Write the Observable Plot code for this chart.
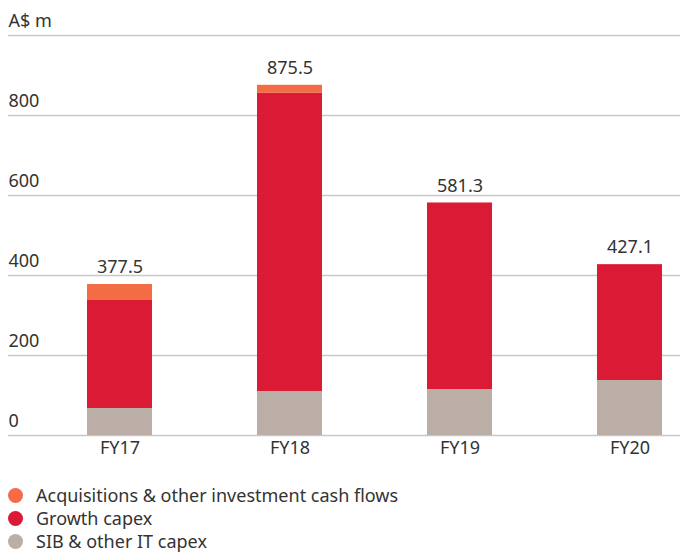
<!DOCTYPE html>
<html>
<head>
<meta charset="utf-8">
<script src="https://cdn.jsdelivr.net/npm/d3@7"></script>
<script src="https://cdn.jsdelivr.net/npm/@observablehq/plot@0.6"></script>
<style>
  html, body { margin: 0; padding: 0; background: #fff; overflow: hidden; }
  body { font-family: "Noto Sans", sans-serif; color: #333; }
  #legend { margin-top: 14px; }
  .row { display: flex; align-items: center; height: 23px; font-size: 18px; line-height: 23px; color: #333; }
  .dot { width: 15px; height: 15px; border-radius: 50%; margin-left: 8px; margin-right: 13px; flex: none; }
</style>
</head>
<body>
<div id="chart"></div>
<div id="legend"></div>
<script>
const years = ["FY17", "FY18", "FY19", "FY20"];
const sibCapex = [67.5, 110, 115, 137.5];
const growthCapex = [270, 745.5, 466.3, 289.6];
const acquisitions = [40, 20, 0, 0];
const totals = [377.5, 875.5, 581.3, 427.1];
const seriesNames = ["SIB & other IT capex", "Growth capex", "Acquisitions & other investment cash flows"];
const seriesColors = ["#baaea6", "#db1a35", "#f36c44"];
const legendOrder = ["Acquisitions & other investment cash flows", "Growth capex", "SIB & other IT capex"];
const yTicks = [0, 200, 400, 600, 800, 1000];
const yTickLabels = ["0", "200", "400", "600", "800", "A$ m"];

const rows = [];
years.forEach((yr, i) => {
  rows.push({year: yr, series: seriesNames[0], value: sibCapex[i]});
  rows.push({year: yr, series: seriesNames[1], value: growthCapex[i]});
  rows.push({year: yr, series: seriesNames[2], value: acquisitions[i]});
});
const totalRows = years.map((yr, i) => ({year: yr, total: totals[i]}));
const tickRows = yTicks.map((t, i) => ({t, label: yTickLabels[i]}));

const chart = Plot.plot({
  width: 680,
  height: 470,
  marginLeft: 8,
  marginRight: 0,
  marginTop: 35,
  marginBottom: 35,
  style: {fontFamily: "'Noto Sans', sans-serif", color: "#333", background: "#fff"},
  x: {domain: years, range: [35, 715], paddingInner: 0.6176, paddingOuter: 0.3088, axis: null},
  y: {domain: [0, 1000], axis: null},
  color: {domain: seriesNames, range: seriesColors},
  marks: [
    Plot.ruleY(yTicks, {stroke: "#c8c8c8", strokeWidth: 1.3}),
    Plot.barY(rows, {x: "year", y: "value", fill: "series", order: seriesNames, inset: 0}),
    Plot.text(tickRows, {y: "t", text: "label", frameAnchor: "left", textAnchor: "start", dy: -14, fontSize: 18, fill: "#333"}),
    Plot.text(totalRows, {x: "year", y: "total", text: d => d.total.toFixed(1), dy: -17, fontSize: 18, fill: "#333"}),
    Plot.text(years, {x: d => d, text: d => d, frameAnchor: "bottom", dy: 18, fontSize: 18, fill: "#333"})
  ]
});
document.getElementById("chart").appendChild(chart);

const legend = document.getElementById("legend");
legendOrder.forEach(name => {
  const row = document.createElement("div");
  row.className = "row";
  const dot = document.createElement("span");
  dot.className = "dot";
  dot.style.background = seriesColors[seriesNames.indexOf(name)];
  const label = document.createElement("span");
  label.textContent = name;
  row.appendChild(dot);
  row.appendChild(label);
  legend.appendChild(row);
});
</script>
</body>
</html>
